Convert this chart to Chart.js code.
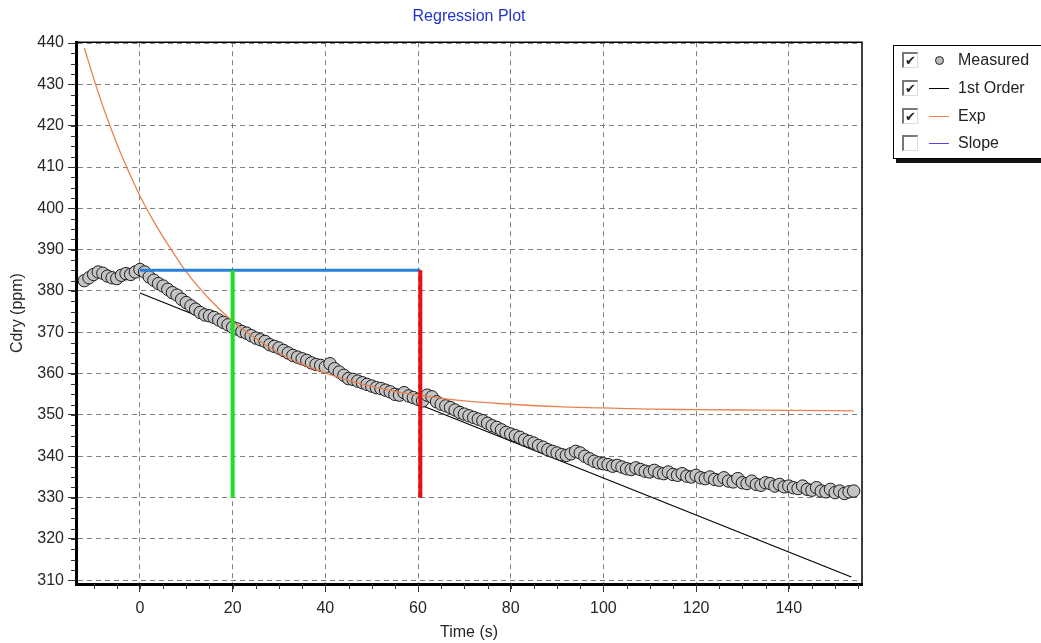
<!DOCTYPE html>
<html>
<head>
<meta charset="utf-8">
<script src="https://cdn.jsdelivr.net/npm/chart.js@4/dist/chart.umd.min.js"></script>
<style>
	body { margin: 0; background: #fff; }
	#wrap { position: relative; width: 1041px; height: 643px; overflow: hidden; }
	#legend {
		position: absolute; left: 893px; top: 45px; width: 160px; height: 112px;
		border: 1px solid #000; background: #fff; box-shadow: 3px 4px 0 #111;
		font-family: "Liberation Sans", Arial, sans-serif; font-size: 16px; color: #222;
	}
	.row { position: absolute; left: 8px; height: 20px; line-height: 20px; }
	.box {
		position: absolute; left: 0; top: 2px; width: 13px; height: 13px;
		border-top: 2px solid #777; border-left: 2px solid #777;
		border-bottom: 1px solid #ddd; border-right: 1px solid #ddd;
		font-family: "DejaVu Sans"; font-size: 13px; line-height: 13px; text-align: center; font-weight: bold;
	}
	.sym { position: absolute; left: 27px; top: 10px; width: 20px; height: 1px; }
	.dot { position: absolute; left: 33px; top: 6px; width: 7px; height: 7px; border-radius: 50%; background: #bbb; border: 1px solid #222; }
	.lab { position: absolute; left: 56px; top: 0; white-space: nowrap; }
</style>
</head>
<body>
<div id="wrap">
	<canvas id="regression-canvas" width="1041" height="643"></canvas>
	<div id="legend">
		<div class="row" style="top:4px"><span class="box">✔</span><span class="dot"></span><span class="lab">Measured</span></div>
		<div class="row" style="top:32px"><span class="box">✔</span><span class="sym" style="background:#000"></span><span class="lab">1st Order</span></div>
		<div class="row" style="top:60px"><span class="box">✔</span><span class="sym" style="background:#e8834f"></span><span class="lab">Exp</span></div>
		<div class="row" style="top:87px"><span class="box"></span><span class="sym" style="background:#5a46e6"></span><span class="lab">Slope</span></div>
	</div>
</div>
<script>
const measuredTime = [-12, -11, -10, -9, -8, -7, -6, -5, -4, -3, -2, -1,
	0, 1, 2, 3, 4, 5, 6, 7, 8, 9, 10, 11, 12, 13, 14, 15, 16, 17, 18, 19,
	20, 21, 22, 23, 24, 25, 26, 27, 28, 29, 30, 31, 32, 33, 34, 35, 36, 37, 38, 39,
	40, 41, 42, 43, 44, 45, 46, 47, 48, 49, 50, 51, 52, 53, 54, 55, 56, 57, 58, 59,
	60, 61, 62, 63, 64, 65, 66, 67, 68, 69, 70, 71, 72, 73, 74, 75, 76, 77, 78, 79,
	80, 81, 82, 83, 84, 85, 86, 87, 88, 89, 90, 91, 92, 93, 94, 95, 96, 97, 98, 99,
	100, 101, 102, 103, 104, 105, 106, 107, 108, 109, 110, 111, 112, 113, 114, 115, 116, 117, 118, 119,
	120, 121, 122, 123, 124, 125, 126, 127, 128, 129, 130, 131, 132, 133, 134, 135, 136, 137, 138, 139,
	140, 141, 142, 143, 144, 145, 146, 147, 148, 149, 150, 151, 152, 153, 154];
const measuredCdry = [382.5, 383.2, 384.0, 384.6, 384.3, 383.6, 383.2, 383.0, 383.8, 384.2, 384.0, 384.6,
	385.2, 384.6, 383.4, 382.6, 381.8, 381.2, 380.4, 379.6, 379.0, 378.0, 377.2, 376.4, 375.6, 374.8, 374.2, 374.0, 373.6, 373.0, 372.4, 371.8,
	371.2, 370.8, 370.2, 369.8, 369.2, 368.6, 368.2, 367.8, 367.0, 366.6, 366.2, 365.6, 365.0, 364.4, 364.0, 363.6, 363.2, 362.6, 362.2, 362.0,
	361.6, 362.4, 361.2, 360.4, 359.6, 358.8, 358.6, 358.2, 357.8, 357.4, 357.0, 356.6, 356.4, 356.0, 355.6, 355.0, 354.8, 355.4, 354.6, 354.2,
	353.8, 353.4, 354.8, 354.4, 353.2, 352.6, 352.2, 351.8, 351.2, 350.6, 350.2, 349.8, 349.4, 349.0, 348.6, 348.0, 347.4, 347.0, 346.4, 345.8,
	345.4, 345.0, 344.6, 344.0, 343.6, 343.2, 342.6, 342.2, 341.6, 341.2, 340.8, 340.4, 340.2, 340.6, 341.2, 340.8, 340.0, 339.4, 338.8, 338.4,
	338.2, 338.0, 337.6, 337.8, 337.4, 337.0, 336.8, 337.2, 336.8, 336.4, 336.2, 336.6, 336.0, 335.8, 336.2, 335.6, 335.4, 335.8, 335.2, 335.0,
	335.4, 334.8, 334.6, 335.0, 334.4, 334.2, 334.8, 334.0, 333.8, 334.6, 333.6, 333.4, 334.0, 333.2, 333.0, 333.6, 333.4, 332.8, 333.2, 332.6,
	332.8, 332.4, 332.2, 332.8, 332.0, 331.8, 332.4, 331.6, 331.4, 332.0, 331.2, 331.6, 331.0, 331.4, 331.6];

const firstOrderTime = [0, 153.5];
const firstOrderCdry = [379.5, 310.8];

const expTime = [-12, -10, -8, -6, -4, -2, 0, 3, 6, 10, 15, 20, 25, 30, 35, 40, 45, 50, 55, 60, 70, 80, 90, 100, 110, 120, 130, 140, 154];
const expCdry = [438.8, 431.5, 424.7, 418.6, 412.9, 407.8, 403.0, 396.8, 391.3, 384.6, 378.0, 372.7, 368.5, 365.0, 362.3, 360.1, 358.4, 356.9, 355.7, 354.8, 353.4, 352.6, 352.0, 351.7, 351.4, 351.3, 351.2, 351.1, 351.0];

// cursor lines: start / end of the fit window and the level line
const startTime = 20;
const endTime = 60.5;
const cursorTop = 385;
const cursorBottom = 330;

const xTicks = [0, 20, 40, 60, 80, 100, 120, 140];
const yTicks = [310, 320, 330, 340, 350, 360, 370, 380, 390, 400, 410, 420, 430, 440];

const pairs = (xs, ys) => xs.map((x, i) => ({ x: x, y: ys[i] }));

const framePlugin = {
	id: "frame",
	afterDraw(chart) {
		const { ctx, chartArea: a, scales } = chart;
		ctx.save();
		ctx.strokeStyle = "#000";
		ctx.lineWidth = 1.5;
		ctx.beginPath();
		ctx.moveTo(a.left, a.top);
		ctx.lineTo(a.right, a.top);
		ctx.lineTo(a.right, a.bottom);
		ctx.stroke();
		// minor ticks
		ctx.lineWidth = 1;
		ctx.strokeStyle = "#333";
		for (let v = -10; v <= 155; v += 5) {
			const px = Math.round(scales.x.getPixelForValue(v)) + 0.5;
			ctx.beginPath();
			ctx.moveTo(px, a.bottom);
			ctx.lineTo(px, a.bottom + 5);
			ctx.stroke();
		}
		for (let v = 310; v <= 440; v += 2.5) {
			const py = Math.round(scales.y.getPixelForValue(v)) + 0.5;
			ctx.beginPath();
			ctx.moveTo(a.left - 5, py);
			ctx.lineTo(a.left, py);
			ctx.stroke();
		}
		ctx.restore();
	},
};

Chart.defaults.font.family = "Liberation Sans";
Chart.defaults.font.size = 16;
Chart.defaults.color = "#262626";

const regressionCanvas = document.getElementById("regression-canvas").getContext("2d");

const regressionChart = new Chart(regressionCanvas, {
	type: "scatter",

	data: {
		datasets: [
			{
				label: "Measured",
				data: pairs(measuredTime, measuredCdry),
				backgroundColor: "#c4c4c4",
				borderColor: "#1a1a1a",
				borderWidth: 1,
				pointRadius: 6.2,
				order: 5,
			},
			{
				label: "1st Order",
				data: pairs(firstOrderTime, firstOrderCdry),
				showLine: true,
				borderColor: "#000",
				borderWidth: 1.2,
				pointRadius: 0,
				order: 6,
			},
			{
				label: "Exp",
				data: pairs(expTime, expCdry),
				showLine: true,
				borderColor: "#e8834f",
				borderWidth: 1.3,
				pointRadius: 0,
				cubicInterpolationMode: "monotone",
				order: 4,
			},
			{
				label: "level",
				data: pairs([0, endTime], [cursorTop, cursorTop]),
				showLine: true,
				borderColor: "#2a7fd6",
				borderWidth: 3,
				pointRadius: 0,
				order: 3,
			},
			{
				label: "start",
				data: pairs([startTime, startTime], [cursorTop, cursorBottom]),
				showLine: true,
				borderColor: "#1ee01e",
				borderWidth: 4,
				pointRadius: 0,
				order: 2,
			},
			{
				label: "end",
				data: pairs([endTime, endTime], [cursorTop, cursorBottom]),
				showLine: true,
				borderColor: "#e81010",
				borderWidth: 4,
				pointRadius: 0,
				order: 1,
			},
		],
	},

	options: {
		responsive: false,
		animation: false,
		layout: {
			padding: { left: 0, right: 179, top: 0, bottom: 0 },
		},
		scales: {
			x: {
				type: "linear",
				min: -13.8,
				max: 155.8,
				afterBuildTicks: (scale) => { scale.ticks = xTicks.map((v) => ({ value: v })); },
				afterFit: (scale) => { scale.height = 59; },
				ticks: { padding: 7, maxRotation: 0 },
				grid: { color: "#808080", lineWidth: 1, tickLength: 8, tickColor: "#333" },
				border: { display: true, color: "#000", width: 3, dash: [5, 4] },
				title: { display: true, text: "Time (s)", padding: { top: 0, bottom: 1 }, font: { size: 16 } },
			},
			y: {
				type: "linear",
				min: 309.1,
				max: 440.2,
				afterBuildTicks: (scale) => { scale.ticks = yTicks.map((v) => ({ value: v })); },
				afterFit: (scale) => { scale.width = 76; },
				ticks: { padding: 4 },
				grid: { color: "#808080", lineWidth: 1, tickLength: 8, tickColor: "#333" },
				border: { display: true, color: "#000", width: 3, dash: [5, 4] },
				title: { display: true, text: "Cdry (ppm)", padding: { top: 8, bottom: 0 }, font: { size: 16 } },
			},
		},
		plugins: {
			title: {
				display: true,
				text: "Regression Plot",
				color: "#2233cc",
				fullSize: false,
				font: { size: 16, weight: "normal" },
				padding: { top: 7, bottom: 16 },
			},
			legend: { display: false },
			tooltip: { enabled: false },
		},
	},
	plugins: [framePlugin],
});
</script>
</body>
</html>
